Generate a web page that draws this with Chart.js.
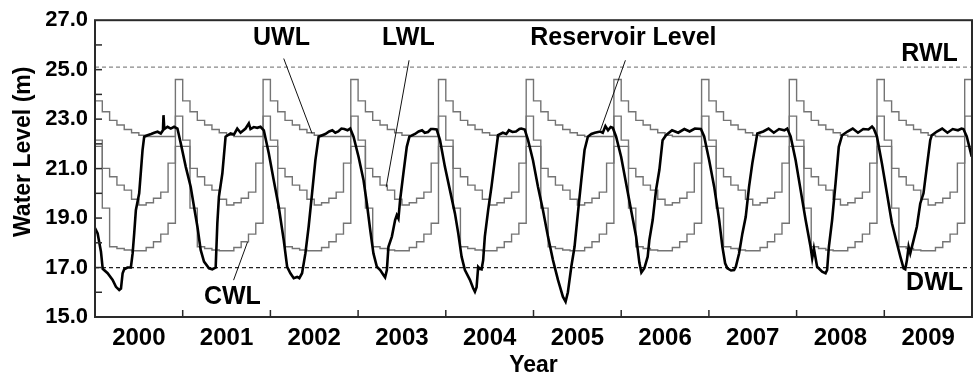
<!DOCTYPE html>
<html><head><meta charset="utf-8">
<script src="https://cdn.jsdelivr.net/npm/chart.js@4"></script>
<style>html,body{margin:0;padding:0;background:#fff}canvas{display:block}</style>
</head><body>
<canvas id="c" width="974" height="379"></canvas>
<script>
// ---------- DATA ----------
const yearLabels = ['2000','2001','2002','2003','2004','2005','2006','2007','2008','2009'];
const yTickValues = [15, 17, 19, 21, 23, 25, 27];

// Rule curves: level at the start of each month (Jan..Dec), same every year
const uwlMonthly = [23.74, 23.30, 22.95, 22.76, 22.58, 22.45, 22.35, 22.30, 22.30, 22.30, 22.30, 24.60];
const lwlMonthly = [22.15, 21.01, 20.67, 20.33, 20.13, 19.76, 19.53, 19.62, 19.80, 20.05, 21.22, 23.12];
const cwlMonthly = [21.90, 19.40, 17.84, 17.77, 17.71, 17.68, 17.68, 17.81, 18.04, 18.35, 18.79, 21.90];

const rwlLevel = 25.1;
const dwlLevel = 17.0;

// Observed reservoir level (decimal year, m)
const resTime = [
2000.000,2000.030,2000.068,2000.088,2000.144,2000.201,2000.239,2000.276,2000.296,2000.315,2000.333,2000.370,2000.409,2000.429,2000.447,2000.466,2000.504,2000.542,2000.561,2000.599,2000.640,2000.675,2000.713,2000.750,2000.775,2000.781,2000.790,2000.827,2000.864,2000.902,2000.940,2000.978,
2001.035,2001.091,2001.129,2001.168,2001.205,2001.243,2001.300,2001.338,2001.376,2001.395,2001.413,2001.452,2001.489,2001.546,2001.585,2001.622,2001.660,2001.717,2001.754,2001.773,2001.810,2001.850,2001.887,2001.925,2001.982,
2002.038,2002.095,2002.152,2002.191,2002.228,2002.266,2002.305,2002.330,2002.361,2002.399,2002.436,2002.475,2002.513,2002.550,2002.626,2002.670,2002.706,2002.740,2002.774,2002.810,2002.842,2002.880,2002.910,2002.948,
2003.005,2003.062,2003.100,2003.138,2003.175,2003.214,2003.252,2003.289,2003.308,2003.328,2003.346,2003.385,2003.422,2003.441,2003.460,2003.479,2003.516,2003.555,2003.585,2003.649,2003.690,2003.729,2003.760,2003.797,2003.830,2003.854,2003.896,2003.934,2003.990,
2004.047,2004.104,2004.142,2004.180,2004.218,2004.275,2004.312,2004.332,2004.351,2004.369,2004.389,2004.408,2004.426,2004.445,2004.483,2004.521,2004.559,2004.596,2004.650,2004.690,2004.720,2004.760,2004.800,2004.840,2004.860,2004.900,2004.938,2004.994,
2005.051,2005.108,2005.165,2005.222,2005.279,2005.335,2005.366,2005.392,2005.431,2005.468,2005.506,2005.545,2005.582,2005.620,2005.660,2005.700,2005.760,2005.790,2005.820,2005.850,2005.880,2005.904,2005.942,2005.999,
2006.056,2006.113,2006.170,2006.207,2006.230,2006.264,2006.302,2006.321,2006.359,2006.397,2006.435,2006.472,2006.511,2006.580,2006.650,2006.720,2006.780,2006.840,2006.909,2006.946,
2007.003,2007.060,2007.117,2007.154,2007.185,2007.211,2007.253,2007.287,2007.307,2007.344,2007.382,2007.420,2007.458,2007.495,2007.552,2007.620,2007.680,2007.740,2007.800,2007.860,2007.893,2007.932,2007.989,
2008.046,2008.103,2008.159,2008.178,2008.197,2008.234,2008.291,2008.330,2008.348,2008.368,2008.405,2008.444,2008.481,2008.519,2008.580,2008.640,2008.700,2008.760,2008.820,2008.860,2008.879,2008.916,2008.973,
2009.030,2009.087,2009.144,2009.183,2009.220,2009.239,2009.258,2009.277,2009.296,2009.334,2009.371,2009.410,2009.447,2009.485,2009.524,2009.542,2009.600,2009.660,2009.720,2009.780,2009.840,2009.880,2009.902,2009.940,2009.997
];
const resLevel = [
18.60,18.38,17.64,16.95,16.77,16.50,16.22,16.09,16.15,16.77,16.93,17.00,17.00,17.57,18.38,19.32,20.00,21.75,22.29,22.35,22.40,22.45,22.49,22.42,22.55,23.16,22.60,22.69,22.62,22.69,22.62,22.02,
21.07,20.27,19.46,18.65,17.71,17.24,16.97,16.93,17.00,18.79,19.86,20.80,22.29,22.42,22.38,22.62,22.45,22.62,22.83,22.60,22.68,22.65,22.69,22.55,21.61,
20.53,19.46,18.11,17.03,16.77,16.57,16.62,16.57,16.77,17.57,18.65,20.00,21.34,22.29,22.40,22.50,22.55,22.45,22.50,22.62,22.60,22.55,22.62,22.29,
21.48,20.53,19.59,18.52,17.57,17.03,16.90,16.70,16.60,16.90,17.84,18.25,18.92,19.12,18.98,19.73,20.80,21.88,22.29,22.40,22.50,22.55,22.45,22.48,22.60,22.60,22.58,22.15,21.07,
20.13,19.19,18.38,17.44,16.90,16.50,16.16,16.02,16.20,17.03,16.95,16.93,17.30,18.25,19.32,20.27,21.34,22.35,22.45,22.40,22.55,22.48,22.50,22.60,22.62,22.58,22.15,21.34,
20.27,19.32,18.25,17.30,16.50,15.82,15.62,16.00,17.03,17.84,19.19,20.53,21.75,22.29,22.40,22.45,22.50,22.45,22.72,22.55,22.68,22.65,22.29,21.48,
20.40,19.32,18.25,17.20,16.80,16.97,17.44,18.11,18.92,20.13,20.94,22.15,22.35,22.55,22.45,22.60,22.50,22.62,22.60,22.30,
21.34,20.27,18.92,17.84,17.17,16.97,16.88,16.90,17.03,17.57,18.38,19.05,20.27,21.21,22.42,22.50,22.62,22.45,22.60,22.55,22.62,22.30,21.34,
20.13,18.92,17.84,17.37,17.77,17.03,16.83,16.77,16.90,17.84,18.92,20.40,21.88,22.35,22.50,22.62,22.45,22.60,22.58,22.70,22.62,22.30,21.21,
20.00,18.79,17.98,17.44,16.97,16.93,17.30,17.84,17.57,18.11,18.65,19.59,20.00,21.07,22.15,22.35,22.50,22.62,22.45,22.60,22.55,22.62,22.60,22.30,21.48
];

// Annotation texts
const labelTexts = ['UWL', 'LWL', 'Reservoir Level', 'RWL', 'DWL', 'CWL'];

// ---------- LAYOUT / ANNOTATION PLACEMENT (data units) ----------
const labelAnchors = [[2002.126, 26.29], [2003.573, 26.29], [2006.025, 26.29], [2009.516, 25.63], [2009.573, 16.39], [2001.566, 15.79]];
const leaderLines = [
  [[2002.152, 25.45], [2002.475, 22.42]],
  [[2003.581, 25.38], [2003.320, 20.25]],
  [[2006.048, 25.38], [2005.764, 22.56]],
  [[2001.580, 16.49], [2001.739, 18.03]]
];

function ruleSeries(monthly) {
  const pts = [];
  for (let yr = 2000; yr < 2010; yr++) {
    for (let m = 0; m < 12; m++) pts.push({x: yr + m / 12, y: monthly[m]});
  }
  pts.push({x: 2010, y: monthly[11]});
  return pts;
}
const resPoints = resTime.map((t, i) => ({x: t, y: resLevel[i]}));
const flat = v => [{x: 2000, y: v}, {x: 2010, y: v}];

const FONT = '"Liberation Sans", Arial, Helvetica, sans-serif';

const decorPlugin = {
  id: 'decor',
  afterDatasetsDraw(chart) {
    const {ctx, chartArea: a, scales: {x, y}} = chart;
    ctx.save();
    // frame
    ctx.strokeStyle = '#2a2a2a';
    ctx.lineWidth = 2;
    ctx.strokeRect(a.left, a.top, a.right - a.left, a.bottom - a.top);
    // inward tick marks
    ctx.lineWidth = 1.5;
    for (let v = 16; v <= 26; v++) {
      const py = y.getPixelForValue(v);
      ctx.beginPath(); ctx.moveTo(a.left, py); ctx.lineTo(a.left + 7, py); ctx.stroke();
    }
    for (let yr = 2001; yr <= 2009; yr++) {
      const px = x.getPixelForValue(yr);
      ctx.beginPath(); ctx.moveTo(px, a.bottom); ctx.lineTo(px, a.bottom - 7); ctx.stroke();
    }
    // leader lines
    ctx.strokeStyle = '#111';
    ctx.lineWidth = 1;
    leaderLines.forEach(([p, q]) => {
      ctx.beginPath();
      ctx.moveTo(x.getPixelForValue(p[0]), y.getPixelForValue(p[1]));
      ctx.lineTo(x.getPixelForValue(q[0]), y.getPixelForValue(q[1]));
      ctx.stroke();
    });
    // labels
    ctx.fillStyle = '#000';
    ctx.font = 'bold 25px ' + FONT;
    ctx.textAlign = 'center';
    ctx.textBaseline = 'middle';
    labelTexts.forEach((t, i) => {
      ctx.fillText(t, x.getPixelForValue(labelAnchors[i][0]), y.getPixelForValue(labelAnchors[i][1]));
    });
    // y-axis title
    ctx.font = 'bold 23px ' + FONT;
    ctx.translate(24, y.getPixelForValue(21.68));
    ctx.rotate(-Math.PI / 2);
    ctx.fillText('Water Level (m)', 0, 0);
    ctx.restore();
  }
};

const ruleStyle = {borderColor: '#747474', borderWidth: 1.4, pointRadius: 0, stepped: 'before', fill: false};

new Chart(document.getElementById('c'), {
  type: 'line',
  data: {
    datasets: [
      {label: 'Reservoir Level', data: resPoints, borderColor: '#000', borderWidth: 2.6, pointRadius: 0, tension: 0, fill: false},
      Object.assign({label: 'UWL', data: ruleSeries(uwlMonthly)}, ruleStyle),
      Object.assign({label: 'LWL', data: ruleSeries(lwlMonthly)}, ruleStyle),
      Object.assign({label: 'CWL', data: ruleSeries(cwlMonthly)}, ruleStyle),
      {label: 'RWL', data: flat(rwlLevel), borderColor: '#888', borderWidth: 1.3, borderDash: [4, 3], pointRadius: 0, fill: false},
      {label: 'DWL', data: flat(dwlLevel), borderColor: '#222', borderWidth: 1.3, borderDash: [4, 3], pointRadius: 0, fill: false}
    ]
  },
  options: {
    responsive: false,
    animation: false,
    devicePixelRatio: 1,
    layout: {padding: {top: 20, right: 2, left: 0, bottom: 0}},
    plugins: {legend: {display: false}, tooltip: {enabled: false}},
    scales: {
      x: {
        type: 'linear', min: 2000, max: 2010, position: 'bottom',
        grid: {display: false, drawTicks: false},
        border: {display: false},
        afterBuildTicks: s => { s.ticks = yearLabels.map((l, i) => ({value: 2000.5 + i})); },
        afterFit: s => { s.height = 62; },
        ticks: {
          padding: 7, maxRotation: 0, autoSkip: false, color: '#000',
          font: {family: FONT, size: 24, weight: 'bold'},
          callback: (v, i) => yearLabels[i]
        },
        title: {display: true, text: 'Year', color: '#000', font: {family: FONT, size: 23, weight: 'bold'}, padding: {top: 0, bottom: 0}}
      },
      y: {
        type: 'linear', min: 15, max: 27,
        grid: {display: false, drawTicks: false},
        border: {display: false},
        afterBuildTicks: s => { s.ticks = yTickValues.map(v => ({value: v})); },
        afterFit: s => { s.width = 95; },
        ticks: {
          padding: 7, color: '#000',
          font: {family: FONT, size: 22, weight: 'bold'},
          callback: v => Number(v).toFixed(1)
        }
      }
    }
  },
  plugins: [decorPlugin]
});
</script>
</body></html>
